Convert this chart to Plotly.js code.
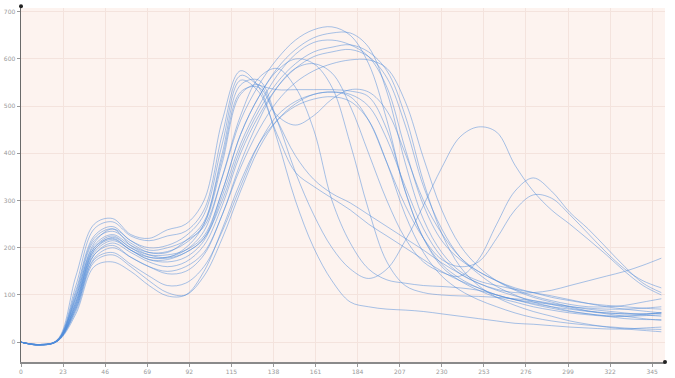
<!DOCTYPE html>
<html>
<head>
<meta charset="utf-8">
<script src="https://cdn.plot.ly/plotly-3.0.1.min.js"></script>
<style>html,body{margin:0;padding:0;background:#fff;}#chart{width:675px;height:378px;}</style>
</head>
<body>
<div id="chart"></div>
<script>
const xs = [0,10,20,30,40,50,60,70,80,90,100,110,120,130,140,150,160,170,180,190,200,210,220,230,240,250,260,270,280,290,300,310,320,330,340,350];

const s1  = [0,-6,6,140,250,262,228,220,238,250,300,470,575,540,430,300,200,130,85,75,70,68,65,60,55,50,45,40,38,35,32,30,28,28,30,32];
const s2  = [0,-5,5,120,240,255,225,215,225,235,280,440,565,545,535,535,535,535,532,520,450,320,220,165,135,115,100,90,82,75,70,65,62,60,60,62];
const s3  = [0,-6,5,110,225,245,215,200,205,225,270,420,555,530,440,360,330,305,280,250,225,200,175,150,130,115,100,90,85,80,75,72,70,70,72,75];
const s4  = [0,-5,4,100,215,235,210,190,190,215,255,390,530,540,480,460,480,515,535,530,490,400,300,230,180,150,130,115,105,95,88,82,78,75,72,70];
const s5  = [0,-6,4,95,210,240,215,195,200,215,245,350,470,545,600,640,662,668,650,590,470,320,220,160,130,110,95,85,75,68,62,58,55,55,58,62];
const s6  = [0,-5,3,85,200,225,200,185,185,195,225,320,440,520,580,620,645,655,655,625,530,380,260,190,150,130,120,112,105,98,90,82,75,70,66,62];
const s7  = [0,-6,3,80,190,215,195,175,170,180,215,310,420,500,565,610,635,640,630,605,540,410,290,215,175,150,130,112,98,88,80,75,75,78,85,92];
const s8  = [0,-5,3,75,185,210,190,170,160,170,205,290,400,480,540,580,605,615,620,605,560,460,330,240,180,145,118,100,85,75,66,60,55,50,48,48];
const s9  = [0,-6,2,70,178,200,180,160,145,150,185,270,370,450,510,550,575,590,598,598,580,510,390,280,205,160,130,110,95,85,75,66,60,55,50,46];
const s10 = [0,-5,4,105,220,240,205,185,180,200,250,400,545,555,470,360,270,200,155,135,155,215,290,370,435,456,445,375,320,280,250,218,185,150,120,100];
const s11 = [0,-6,3,75,185,205,180,160,150,160,190,270,380,470,540,580,590,570,500,400,300,220,170,148,140,175,250,320,348,320,275,240,200,160,125,105];
const s12 = [0,-5,3,70,175,190,165,140,120,125,160,235,330,420,480,510,525,530,520,470,380,290,220,175,160,170,220,280,312,305,270,230,190,155,130,115];
const s13 = [0,-6,3,65,170,185,160,130,105,100,140,220,320,410,470,505,525,530,525,500,430,330,240,180,145,125,112,105,105,110,120,130,140,150,163,178];
const s14 = [0,-5,2,60,160,170,150,120,98,100,150,240,340,420,470,500,515,520,510,470,380,270,190,140,110,90,75,62,52,45,40,36,33,30,28,27];
const s15 = [0,-6,4,90,200,220,195,180,180,195,235,350,480,560,580,540,450,300,210,155,132,125,120,118,115,110,100,90,80,72,65,60,56,55,56,58];
const s16 = [0,-5,4,95,205,228,205,190,192,210,250,380,525,545,470,395,345,315,295,270,245,220,195,168,145,125,110,98,88,80,72,66,62,60,60,62];
const s17 = [0,-6,3,80,195,218,195,175,175,190,220,320,440,520,575,600,590,540,420,280,170,120,105,100,98,97,95,92,88,82,76,70,66,62,58,55];
const s18 = [0,-5,3,85,195,222,200,180,178,190,220,300,410,490,550,590,615,625,630,615,575,480,340,230,160,120,95,78,65,55,45,38,32,28,25,22];

const series = [s1,s2,s3,s4,s5,s6,s7,s8,s9,s10,s11,s12,s13,s14,s15,s16,s17,s18];

const traces = series.map(ys => ({
  x: xs, y: ys, type: 'scatter', mode: 'lines',
  line: {color: 'rgba(80,140,218,0.5)', width: 1, shape: 'spline', smoothing: 1},
  hoverinfo: 'skip', showlegend: false
}));

const layout = {
  width: 675, height: 378,
  margin: {l: 21, r: 10, t: 8, b: 16, pad: 0},
  paper_bgcolor: '#ffffff',
  plot_bgcolor: '#fdf3ef',
  showlegend: false,
  xaxis: {
    range: [0, 352], tick0: 0, dtick: 23, zeroline: false,
    showgrid: true, gridcolor: '#f4e3dd', gridwidth: 1,
    showline: true, linecolor: '#8a8a8a', linewidth: 1.5,
    ticks: 'outside', ticklen: 3, tickcolor: '#999',
    tickfont: {family: 'DejaVu Sans', size: 6, color: '#999'}
  },
  yaxis: {
    range: [-42, 708], tick0: 0, dtick: 100, zeroline: false,
    showgrid: true, gridcolor: '#f4e3dd', gridwidth: 1,
    showline: true, linecolor: '#6a6a6a', linewidth: 1.5,
    ticks: 'outside', ticklen: 3, tickcolor: '#999',
    tickfont: {family: 'DejaVu Sans', size: 6, color: '#999'}
  },
  shapes: [
    {type: 'circle', xref: 'paper', yref: 'paper', xsizemode: 'pixel', ysizemode: 'pixel',
     xanchor: 0, yanchor: 1.005, x0: -2, x1: 2, y0: -2, y1: 2, fillcolor: '#222', line: {width: 0}},
    {type: 'circle', xref: 'paper', yref: 'paper', xsizemode: 'pixel', ysizemode: 'pixel',
     xanchor: 1, yanchor: 0, x0: -2, x1: 2, y0: -2, y1: 2, fillcolor: '#222', line: {width: 0}}
  ]
};

Plotly.newPlot('chart', traces, layout, {displayModeBar: false, staticPlot: true});
</script>
</body>
</html>
